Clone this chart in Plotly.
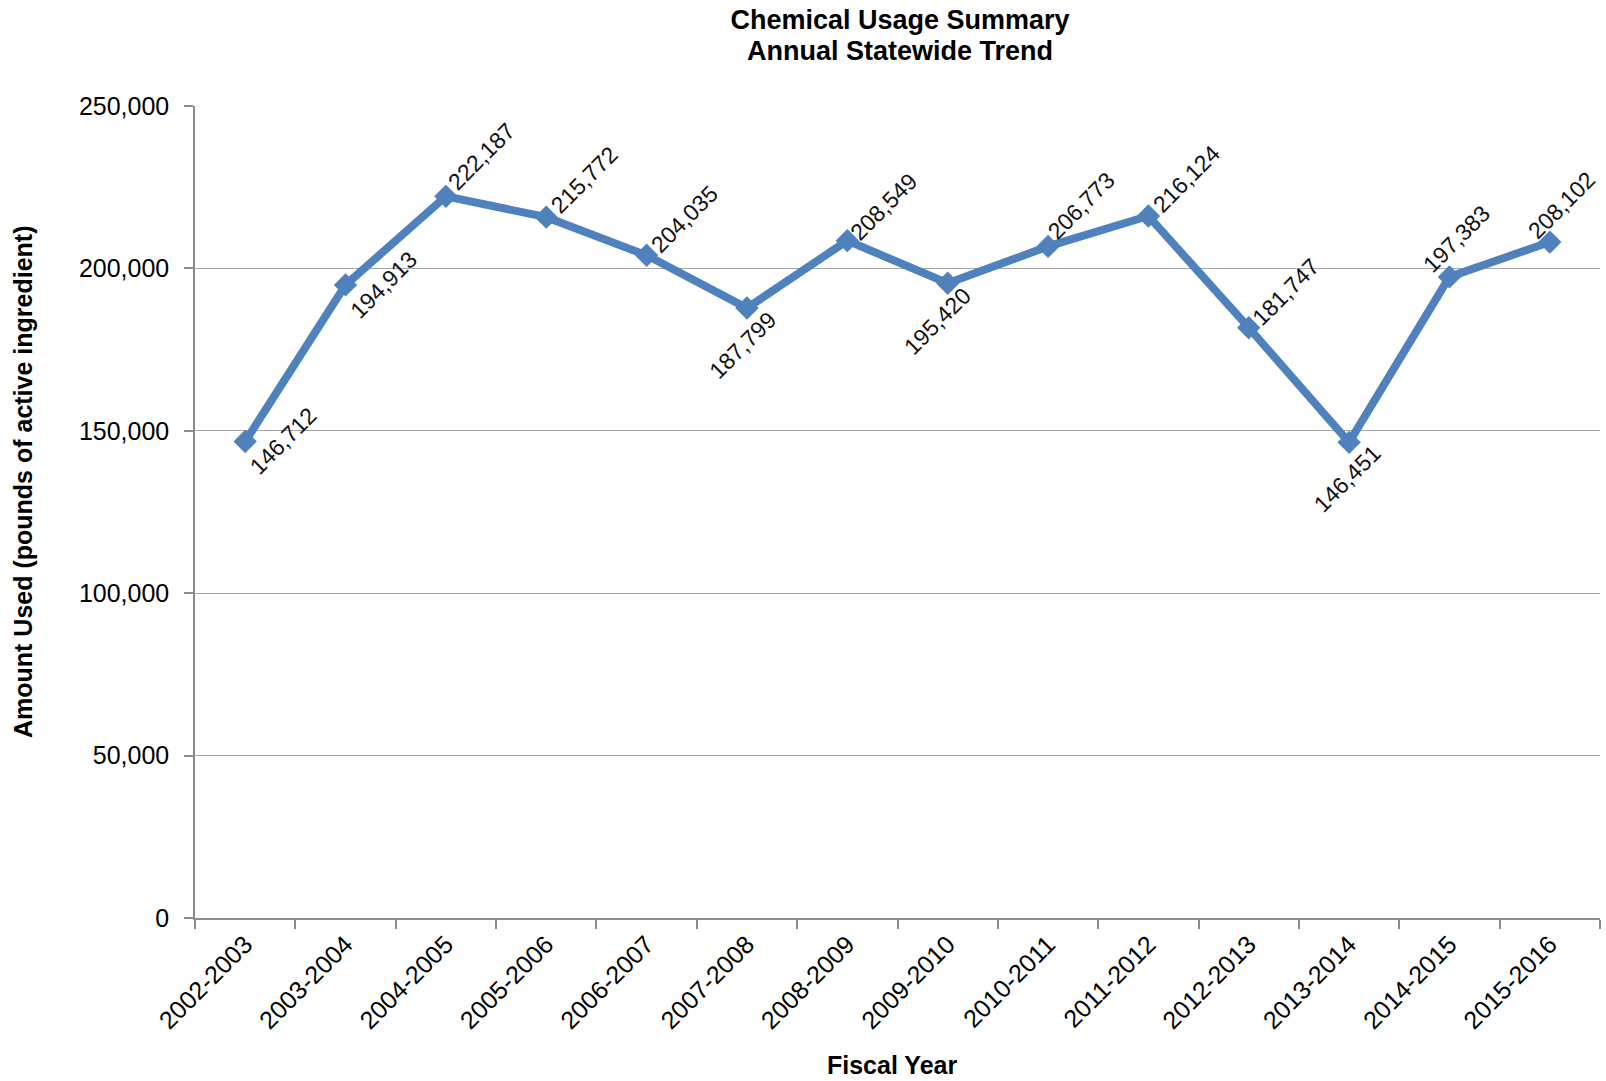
import plotly.graph_objects as go

years = ["2002-2003", "2003-2004", "2004-2005", "2005-2006", "2006-2007", "2007-2008",
         "2008-2009", "2009-2010", "2010-2011", "2011-2012", "2012-2013", "2013-2014",
         "2014-2015", "2015-2016"]
amounts = [146712, 194913, 222187, 215772, 204035, 187799, 208549, 195420,
           206773, 216124, 181747, 146451, 197383, 208102]
# label offsets (pixels) for data labels: above-right or below
label_dx = [38, 38, 36, 38, 38, -4, 36, -10, 33, 38, 37, -2, 7, 12]
label_dy = [0, 0, 40, 37, 36, -37, 34, -38, 40, 37, 36, -37, 38, 37]

BLUE = "#4F81BD"
W, H = 1606, 1081
L, R, T, B = 195, 6, 106, 163
FONT = "Liberation Sans, Arial"
PLOT_H = H - T - B

fig = go.Figure()
fig.add_trace(go.Scatter(
    x=years, y=amounts, mode="lines+markers",
    line=dict(color=BLUE, width=8),
    marker=dict(symbol="diamond", size=18, color=BLUE),
    hoverinfo="x+y", showlegend=False,
))

annotations = []
for yr, v, dx, dy in zip(years, amounts, label_dx, label_dy):
    annotations.append(dict(
        x=yr, y=v, xref="x", yref="y", text=f"{v:,}", showarrow=False,
        textangle=-45, xanchor="center", yanchor="middle",
        xshift=dx, yshift=dy,
        font=dict(family=FONT, size=23, color="#111111"),
    ))

annotations.append(dict(
    text="<b>Fiscal Year</b>", xref="paper", yref="paper", x=0.496, y=-0.1816,
    xanchor="center", yanchor="middle", showarrow=False,
    font=dict(family=FONT, size=25, color="#000000"),
))
annotations.append(dict(
    text="<b>Amount Used (pounds of active ingredient)</b>", xref="paper", yref="paper",
    x=-0.1225, y=0.538, xanchor="center", yanchor="middle", showarrow=False,
    textangle=-90,
    font=dict(family=FONT, size=25, color="#000000"),
))
# second title line
annotations.append(dict(
    text="<b>Annual Statewide Trend</b>", xref="paper", yref="paper",
    x=(900 - L) / (W - L - R), y=(H - B - 50.5) / PLOT_H,
    xanchor="center", yanchor="middle", showarrow=False,
    font=dict(family=FONT, size=27, color="#000000"),
))

fig.update_layout(
    width=W, height=H,
    margin=dict(l=L, r=R, t=T, b=B, pad=0),
    paper_bgcolor="white", plot_bgcolor="white",
    title=dict(
        text="<b>Chemical Usage Summary</b>",
        x=900 / W, xref="container", xanchor="center",
        y=1 - 19.5 / H, yref="container", yanchor="middle",
        font=dict(family=FONT, size=27, color="#000000"),
    ),
    annotations=annotations,
    font=dict(family=FONT, color="#000000"),
)

fig.update_xaxes(
    type="category", tickson="boundaries", tickangle=-45,
    ticks="outside", ticklen=9, tickcolor="#8c8c8c", tickwidth=1.5,
    showline=True, linecolor="#8c8c8c", linewidth=1.5,
    showgrid=False, range=[-0.5, len(years) - 0.5],
    tickfont=dict(family=FONT, size=25, color="#000000"),
)
fig.update_yaxes(
    range=[0, 250000], tickvals=[0, 50000, 100000, 150000, 200000, 250000],
    tickformat=",d", ticks="outside", ticklen=9, tickcolor="#8c8c8c", tickwidth=1.5,
    showline=True, linecolor="#8c8c8c", linewidth=1.5, ticklabelstandoff=10,
    showgrid=True, gridcolor="#a6a6a6", gridwidth=1.2, zeroline=False,
    tickfont=dict(family=FONT, size=25, color="#000000"),
)

fig.write_html("out.html")
